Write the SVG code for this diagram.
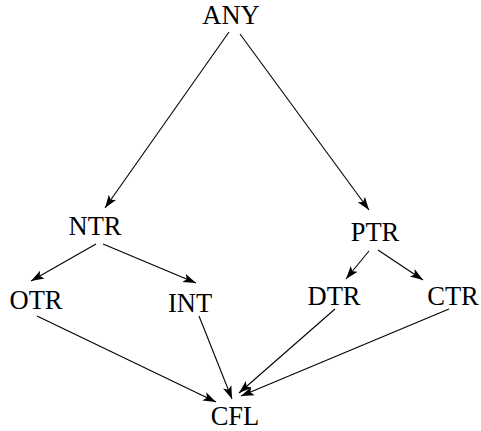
<svg xmlns="http://www.w3.org/2000/svg" width="481" height="431" viewBox="0 0 481 431">
<style>
text{font-family:"Liberation Serif","Times New Roman",serif;font-size:26.5px;fill:#000;text-anchor:middle}
.e{stroke:#000;stroke-width:1.1;fill:none;marker-end:url(#ah)}
</style>
<defs>
<marker id="ah" markerUnits="userSpaceOnUse" markerWidth="14" markerHeight="10" viewBox="0 0 14 10" refX="13" refY="5" orient="auto">
<path d="M0,0.5 L13,5 L0,9.5 L3,5 z" fill="#000"/>
</marker>
</defs>
<rect width="481" height="431" fill="#fff"/>
<g id="connectors">
<line class="e" x1="229" y1="32" x2="105" y2="208"/>
<line class="e" x1="240" y1="34" x2="369" y2="210"/>
<line class="e" x1="96" y1="244" x2="31" y2="281"/>
<line class="e" x1="103" y1="244" x2="196" y2="283"/>
<line class="e" x1="369" y1="251" x2="346" y2="279"/>
<line class="e" x1="378" y1="250" x2="423" y2="280"/>
<line class="e" x1="37" y1="316" x2="216" y2="402"/>
<line class="e" x1="199" y1="316" x2="232" y2="399"/>
<line class="e" x1="335" y1="309" x2="239" y2="393"/>
<line class="e" x1="449" y1="309" x2="241" y2="396"/>
</g>
<g id="ANY"><text x="231" y="24">ANY</text></g>
<g id="NTR"><text x="95" y="235">NTR</text></g>
<g id="PTR"><text x="375" y="241">PTR</text></g>
<g id="OTR"><text x="36" y="309">OTR</text></g>
<g id="INT"><text x="190" y="312">INT</text></g>
<g id="DTR"><text x="334" y="305">DTR</text></g>
<g id="CTR"><text x="453" y="305">CTR</text></g>
<g id="CFL"><text x="235" y="425">CFL</text></g>
</svg>
